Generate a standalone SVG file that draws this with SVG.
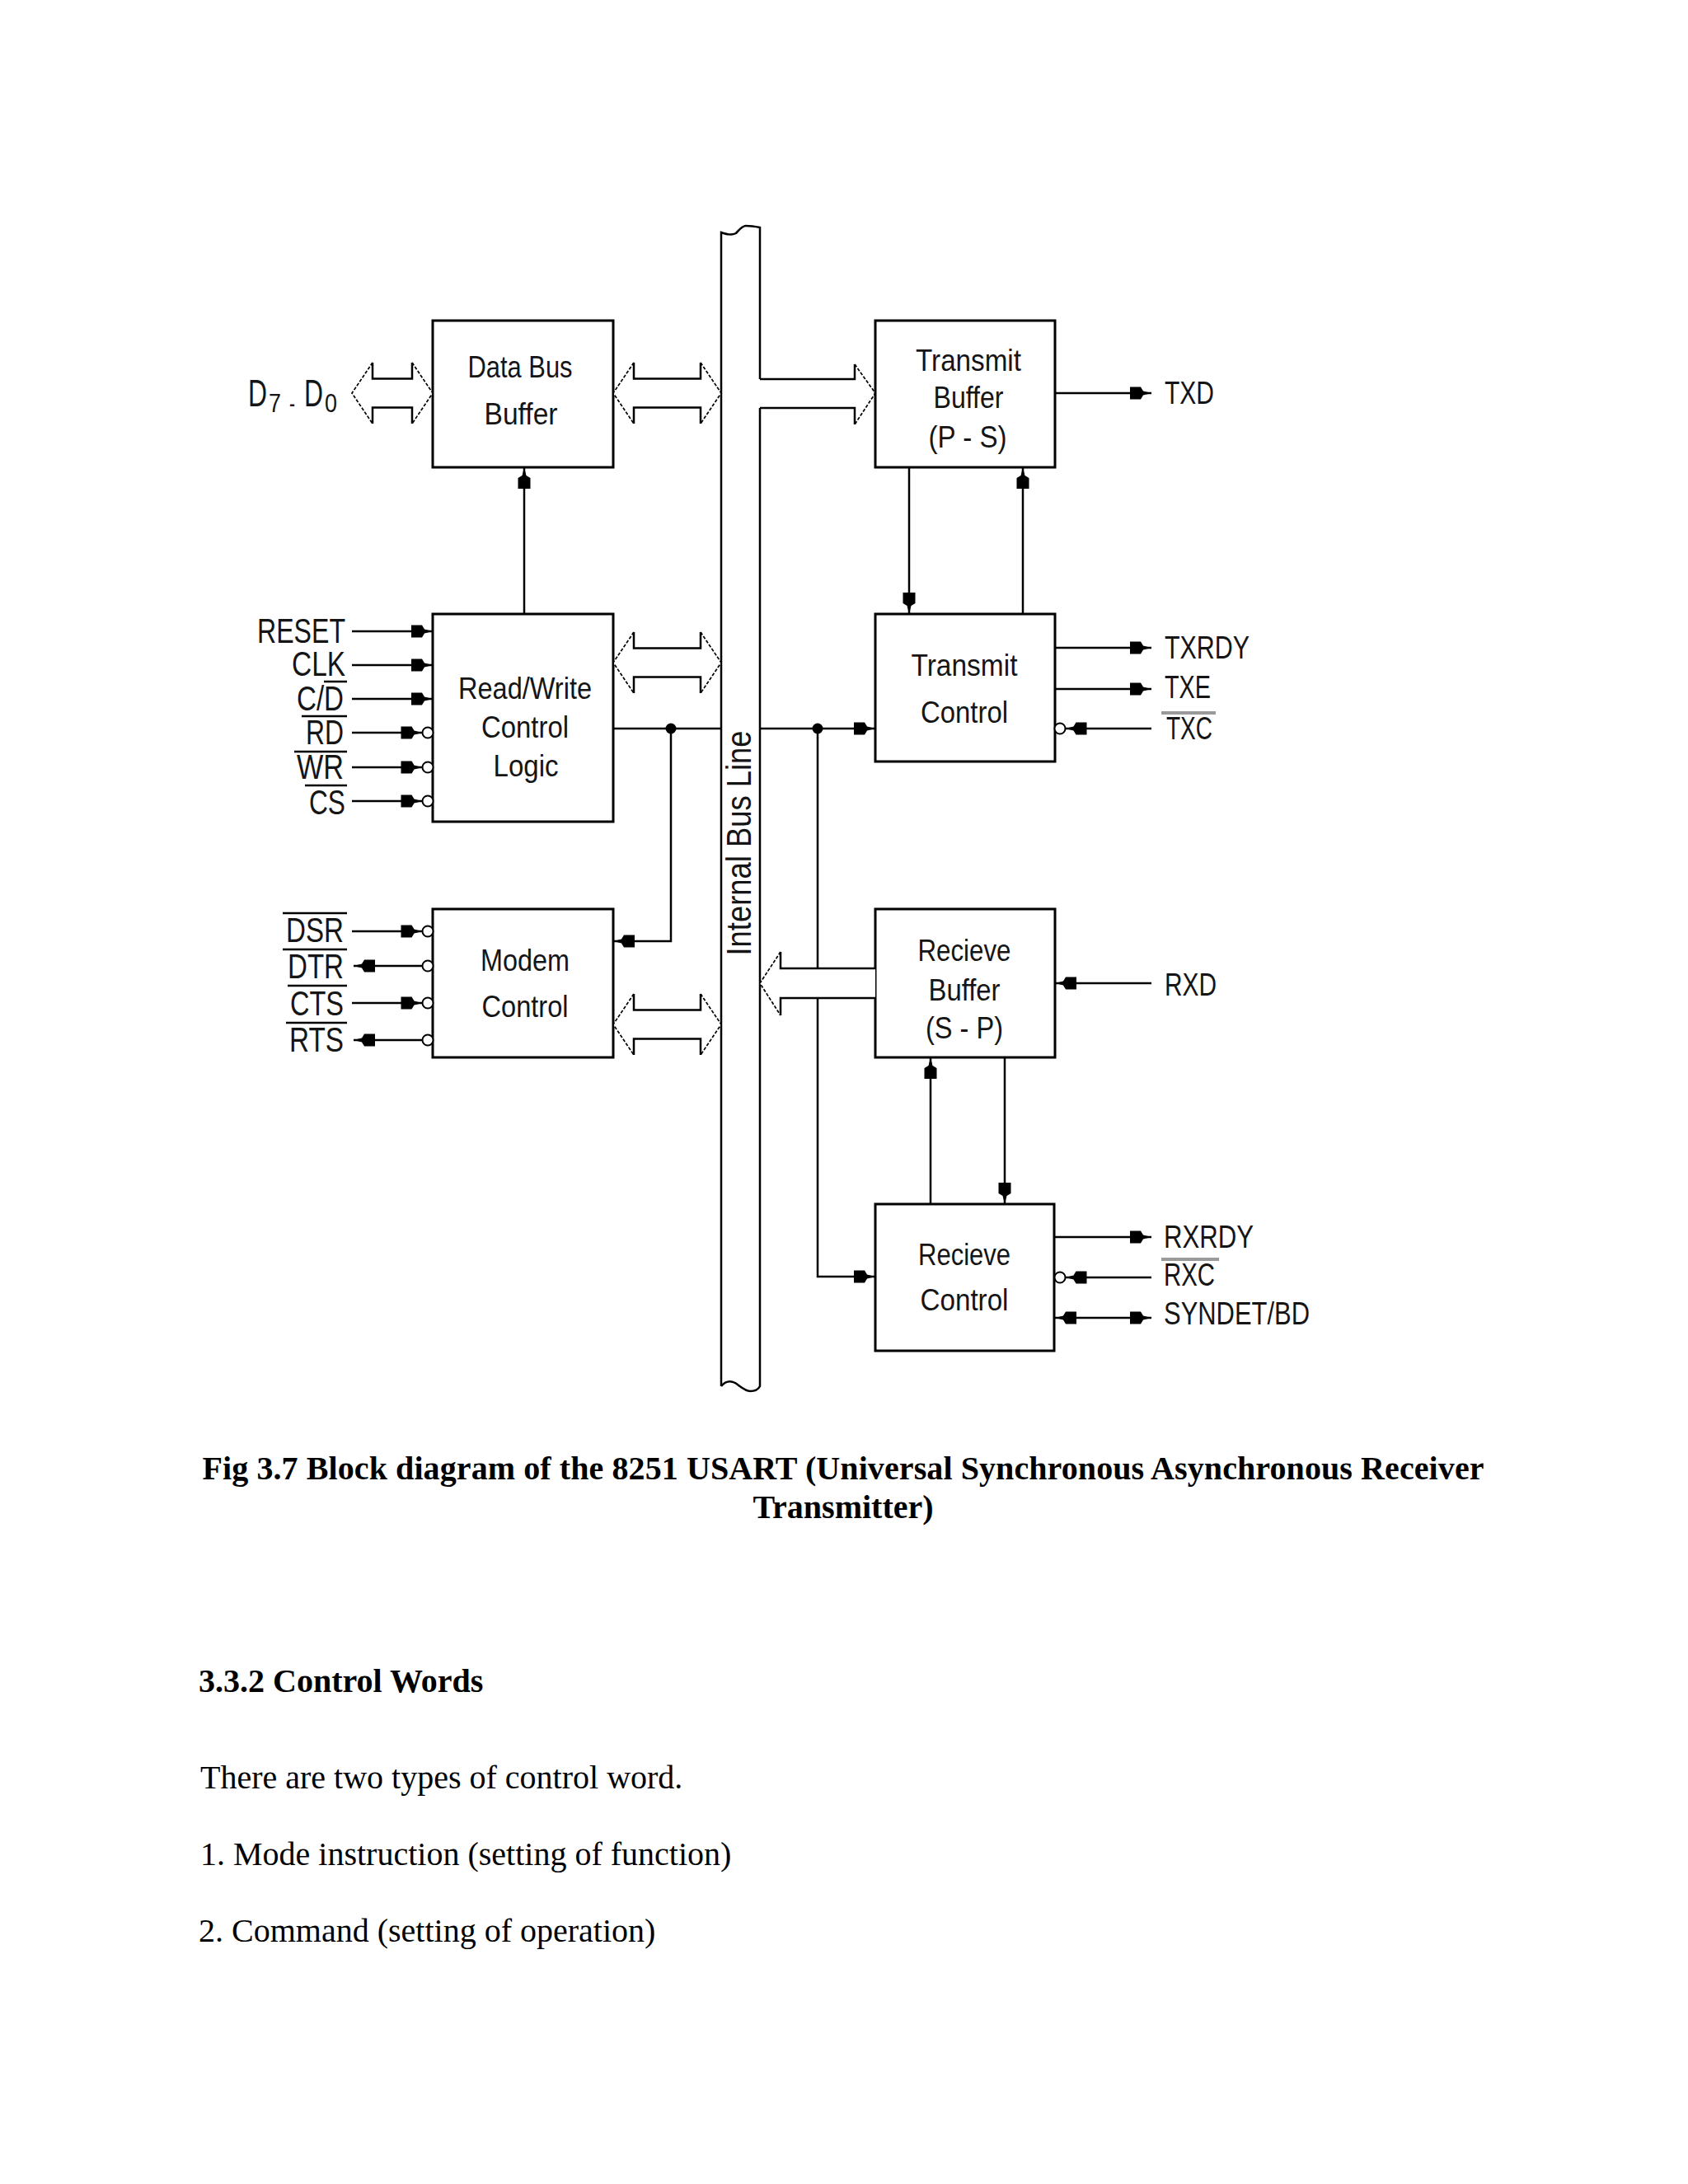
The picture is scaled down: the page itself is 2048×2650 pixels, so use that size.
<svg xmlns="http://www.w3.org/2000/svg" width="2048" height="2650" viewBox="0 0 2048 2650">
<style>
.box{fill:#fff;stroke:#000;stroke-width:3}
.ln{fill:none;stroke:#000;stroke-width:2.5}
.orth{fill:none;stroke:#000;stroke-width:2.5}
.diag{fill:none;stroke:#000;stroke-width:1.7;stroke-dasharray:4 2}
.wf{fill:#fff;stroke:none}
.bub{fill:#fff;stroke:#000;stroke-width:2}
.dot{fill:#000}
.ob{stroke:#000;stroke-width:2.5}
.obg{stroke:#9a9a9a;stroke-width:4}
.t{font-family:"Liberation Sans",Arial,sans-serif;fill:#151515}
.bt{font-size:36px;text-anchor:middle}
.pl{font-size:43px}
.pr{font-size:38px}
.cap{font-family:"Liberation Serif","Times New Roman",serif;font-size:40px;fill:#000}
.b{font-weight:bold}
</style>
<defs>
<marker id="ah" viewBox="-27 -9 28 18" refX="0" refY="0" markerWidth="28" markerHeight="18" markerUnits="userSpaceOnUse" orient="auto-start-reverse">
<path d="M0,0 L-10,-2.5 L-13,-7.5 L-26,-7.5 L-26,7.5 L-13,7.5 L-10,2.5 Z" fill="#000"/>
</marker>
</defs>
<rect width="2048" height="2650" fill="#fff"/>

<g id="bus">
<path class="ln" d="M875,1682 V282 C881,284 887,286 893,283 C897,279 900,274 905,274 C912,274 917,275 922,276 V460"/>
<path class="ln" d="M922,495 V1682 C920,1686 916,1688 910,1688 C904,1688 898,1682 892,1678 C886,1675 880,1676 875,1682"/>
<text class="t" font-size="42" text-anchor="middle" textLength="273" lengthAdjust="spacingAndGlyphs" transform="translate(911,1023) rotate(-90)">Internal Bus Line</text>
</g>

<g id="data-bus-buffer">
<rect class="box" x="525" y="389" width="219" height="178"/>
<text class="t bt" x="631" y="458" textLength="127" lengthAdjust="spacingAndGlyphs">Data Bus</text>
<text class="t bt" x="632" y="515" textLength="89" lengthAdjust="spacingAndGlyphs">Buffer</text>
</g>

<g id="rw-control">
<rect class="box" x="525" y="745" width="219" height="252"/>
<text class="t bt" x="637" y="848" textLength="162" lengthAdjust="spacingAndGlyphs">Read/Write</text>
<text class="t bt" x="637" y="895" textLength="106" lengthAdjust="spacingAndGlyphs">Control</text>
<text class="t bt" x="638" y="942" textLength="79" lengthAdjust="spacingAndGlyphs">Logic</text>
</g>

<g id="modem-control">
<rect class="box" x="525" y="1103" width="219" height="180"/>
<text class="t bt" x="637" y="1178" textLength="108" lengthAdjust="spacingAndGlyphs">Modem</text>
<text class="t bt" x="637" y="1234" textLength="105" lengthAdjust="spacingAndGlyphs">Control</text>
</g>

<g id="transmit-buffer">
<rect class="box" x="1062" y="389" width="218" height="178"/>
<text class="t bt" x="1175" y="450" textLength="128" lengthAdjust="spacingAndGlyphs">Transmit</text>
<text class="t bt" x="1175" y="495" textLength="85" lengthAdjust="spacingAndGlyphs">Buffer</text>
<text class="t bt" x="1174" y="543" textLength="95" lengthAdjust="spacingAndGlyphs">(P - S)</text>
</g>

<g id="transmit-control">
<rect class="box" x="1062" y="745" width="218" height="179"/>
<text class="t bt" x="1170" y="820" textLength="129" lengthAdjust="spacingAndGlyphs">Transmit</text>
<text class="t bt" x="1170" y="877" textLength="106" lengthAdjust="spacingAndGlyphs">Control</text>
</g>

<g id="receive-buffer">
<rect class="box" x="1062" y="1103" width="218" height="180"/>
<text class="t bt" x="1170" y="1166" textLength="113" lengthAdjust="spacingAndGlyphs">Recieve</text>
<text class="t bt" x="1170" y="1214" textLength="87" lengthAdjust="spacingAndGlyphs">Buffer</text>
<text class="t bt" x="1170" y="1260" textLength="94" lengthAdjust="spacingAndGlyphs">(S - P)</text>
</g>

<g id="receive-control">
<rect class="box" x="1062" y="1461" width="217" height="178"/>
<text class="t bt" x="1170" y="1535" textLength="112" lengthAdjust="spacingAndGlyphs">Recieve</text>
<text class="t bt" x="1170" y="1590" textLength="107" lengthAdjust="spacingAndGlyphs">Control</text>
</g>

<g id="pin-labels">
<text class="t"><tspan x="301" y="493" font-size="46" textLength="23" lengthAdjust="spacingAndGlyphs">D</tspan><tspan x="326" y="500" font-size="31" textLength="15" lengthAdjust="spacingAndGlyphs">7</tspan><tspan x="351" y="500" font-size="31" textLength="7" lengthAdjust="spacingAndGlyphs">-</tspan><tspan x="369" y="493" font-size="46" textLength="23" lengthAdjust="spacingAndGlyphs">D</tspan><tspan x="394" y="500" font-size="31" textLength="15" lengthAdjust="spacingAndGlyphs">0</tspan></text>
<text class="t pl" x="312" y="780" textLength="107" lengthAdjust="spacingAndGlyphs">RESET</text>
<text class="t pl" x="354" y="820" textLength="65" lengthAdjust="spacingAndGlyphs">CLK</text>
<text class="t pl" x="360" y="862" textLength="57" lengthAdjust="spacingAndGlyphs">C/D</text>
<text class="t pl" x="371" y="903" textLength="46" lengthAdjust="spacingAndGlyphs">RD</text>
<text class="t pl" x="360" y="945" textLength="57" lengthAdjust="spacingAndGlyphs">WR</text>
<text class="t pl" x="375" y="988" textLength="44" lengthAdjust="spacingAndGlyphs">CS</text>
<text class="t pl" x="347" y="1143" textLength="70" lengthAdjust="spacingAndGlyphs">DSR</text>
<text class="t pl" x="349" y="1187" textLength="68" lengthAdjust="spacingAndGlyphs">DTR</text>
<text class="t pl" x="352" y="1232" textLength="65" lengthAdjust="spacingAndGlyphs">CTS</text>
<text class="t pl" x="351" y="1276" textLength="66" lengthAdjust="spacingAndGlyphs">RTS</text>
<line class="ob" x1="393" y1="827" x2="421" y2="827"/>
<line class="ob" x1="366" y1="869" x2="421" y2="869"/>
<line class="ob" x1="357" y1="912" x2="421" y2="912"/>
<line class="ob" x1="370" y1="953" x2="421" y2="953"/>
<line class="ob" x1="343" y1="1108" x2="421" y2="1108"/>
<line class="ob" x1="343" y1="1152" x2="421" y2="1152"/>
<line class="ob" x1="349" y1="1196" x2="421" y2="1196"/>
<line class="ob" x1="347" y1="1241" x2="421" y2="1241"/>
<text class="t pr" x="1413" y="490" textLength="60" lengthAdjust="spacingAndGlyphs">TXD</text>
<text class="t pr" x="1413" y="799" textLength="103" lengthAdjust="spacingAndGlyphs">TXRDY</text>
<text class="t pr" x="1413" y="847" textLength="56" lengthAdjust="spacingAndGlyphs">TXE</text>
<text class="t pr" x="1415" y="897" textLength="56" lengthAdjust="spacingAndGlyphs">TXC</text>
<line class="obg" x1="1409" y1="865" x2="1475" y2="865"/>
<text class="t pr" x="1413" y="1208" textLength="63" lengthAdjust="spacingAndGlyphs">RXD</text>
<text class="t pr" x="1412" y="1514" textLength="109" lengthAdjust="spacingAndGlyphs">RXRDY</text>
<text class="t pr" x="1412" y="1560" textLength="62" lengthAdjust="spacingAndGlyphs">RXC</text>
<line class="obg" x1="1409" y1="1528" x2="1479" y2="1528"/>
<text class="t pr" x="1412" y="1607" textLength="177" lengthAdjust="spacingAndGlyphs">SYNDET/BD</text>
</g>

<g id="connectors">
<path class="ln" d="M427,766 H525" marker-end="url(#ah)"/>
<path class="ln" d="M427,807 H525" marker-end="url(#ah)"/>
<path class="ln" d="M427,848 H525" marker-end="url(#ah)"/>
<path class="ln" d="M427,889 H512.5" marker-end="url(#ah)"/>
<path class="ln" d="M427,931 H512.5" marker-end="url(#ah)"/>
<path class="ln" d="M427,972 H512.5" marker-end="url(#ah)"/>
<path class="ln" d="M427,1130 H512.5" marker-end="url(#ah)"/>
<path class="ln" d="M512.5,1172 H429" marker-end="url(#ah)"/>
<path class="ln" d="M427,1217 H512.5" marker-end="url(#ah)"/>
<path class="ln" d="M512.5,1262 H429" marker-end="url(#ah)"/>
<circle class="bub" cx="519" cy="889" r="6.5"/>
<circle class="bub" cx="519" cy="931" r="6.5"/>
<circle class="bub" cx="519" cy="972" r="6.5"/>
<circle class="bub" cx="519" cy="1130" r="6.5"/>
<circle class="bub" cx="519" cy="1172" r="6.5"/>
<circle class="bub" cx="519" cy="1217" r="6.5"/>
<circle class="bub" cx="519" cy="1262" r="6.5"/>
<path class="ln" d="M1280,477 H1397" marker-end="url(#ah)"/>
<path class="ln" d="M1280,786 H1397" marker-end="url(#ah)"/>
<path class="ln" d="M1280,836 H1397" marker-end="url(#ah)"/>
<path class="ln" d="M1397,884 H1292.5" marker-end="url(#ah)"/>
<circle class="bub" cx="1286" cy="884" r="6.5"/>
<path class="ln" d="M1397,1193 H1280" marker-end="url(#ah)"/>
<path class="ln" d="M1279,1501 H1397" marker-end="url(#ah)"/>
<path class="ln" d="M1397,1550 H1292.5" marker-end="url(#ah)"/>
<circle class="bub" cx="1286" cy="1550" r="6.5"/>
<path class="ln" d="M1280,1599 H1397" marker-start="url(#ah)" marker-end="url(#ah)"/>
<path class="ln" d="M636,745 V567" marker-end="url(#ah)"/>
<path class="ln" d="M1103,567 V745" marker-end="url(#ah)"/>
<path class="ln" d="M1241,745 V567" marker-end="url(#ah)"/>
<path class="ln" d="M1129,1461 V1283" marker-end="url(#ah)"/>
<path class="ln" d="M1219,1283 V1461" marker-end="url(#ah)"/>
<path class="ln" d="M744,884 H875"/>
<path class="ln" d="M814,884 V1142 H744" marker-end="url(#ah)"/>
<circle class="dot" cx="814" cy="884" r="6.5"/>
<path class="ln" d="M922,884 H1062" marker-end="url(#ah)"/>
<path class="ln" d="M992,884 V1549 H1062" marker-end="url(#ah)"/>
<circle class="dot" cx="992" cy="884" r="6.5"/>
<g id="dbl-d7d0">
<path class="wf" d="M427,477 L452,440 L452,459.5 L500,459.5 L500,440 L525,477 L500,514 L500,494.5 L452,494.5 L452,514 Z"/>
<path class="orth" d="M452,440 V459.5 H500 V440 M452,514 V494.5 H500 V514"/>
<path class="diag" d="M452,440 L427,477 L452,514 M500,440 L525,477 L500,514"/>
</g>
<g id="dbl-dbb-bus">
<path class="wf" d="M744,477 L769,440 L769,459.5 L850,459.5 L850,440 L875,477 L850,514 L850,494.5 L769,494.5 L769,514 Z"/>
<path class="orth" d="M769,440 V459.5 H850 V440 M769,514 V494.5 H850 V514"/>
<path class="diag" d="M769,440 L744,477 L769,514 M850,440 L875,477 L850,514"/>
</g>
<g id="dbl-rw-bus">
<path class="wf" d="M744,804 L769,767 L769,786.5 L850,786.5 L850,767 L875,804 L850,841 L850,821.5 L769,821.5 L769,841 Z"/>
<path class="orth" d="M769,767 V786.5 H850 V767 M769,841 V821.5 H850 V841"/>
<path class="diag" d="M769,767 L744,804 L769,841 M850,767 L875,804 L850,841"/>
</g>
<g id="dbl-modem-bus">
<path class="wf" d="M744,1243 L769,1206 L769,1225.5 L850,1225.5 L850,1206 L875,1243 L850,1280 L850,1260.5 L769,1260.5 L769,1280 Z"/>
<path class="orth" d="M769,1206 V1225.5 H850 V1206 M769,1280 V1260.5 H850 V1280"/>
<path class="diag" d="M769,1206 L744,1243 L769,1280 M850,1206 L875,1243 L850,1280"/>
</g>
<g id="bus-to-tb">
<path class="orth" d="M922,460 H1037 V442 M922,495 H1037 V515"/>
<path class="diag" d="M1037,442 L1062,477 L1037,515"/>
</g>
<g id="rb-to-bus">
<path class="wf" d="M922,1193 L947,1155 L947,1175 L1062,1175 L1062,1211 L947,1211 L947,1232 Z"/>
<path class="orth" d="M1062,1175 H947 V1155 M1062,1211 H947 V1232"/>
<path class="diag" d="M947,1155 L922,1193 L947,1232"/>
</g>
</g>

<g id="caption">
<text class="cap b" x="1023" y="1795" text-anchor="middle" textLength="1555">Fig 3.7 Block diagram of the 8251 USART (Universal Synchronous Asynchronous Receiver</text>
<text class="cap b" x="1023" y="1842" text-anchor="middle">Transmitter)</text>
</g>
<g id="body-text">
<text class="cap b" x="241" y="2053">3.3.2 Control Words</text>
<text class="cap" x="243" y="2170">There are two types of control word.</text>
<text class="cap" x="243" y="2263">1. Mode instruction (setting of function)</text>
<text class="cap" x="241" y="2356">2. Command (setting of operation)</text>
</g>
</svg>
